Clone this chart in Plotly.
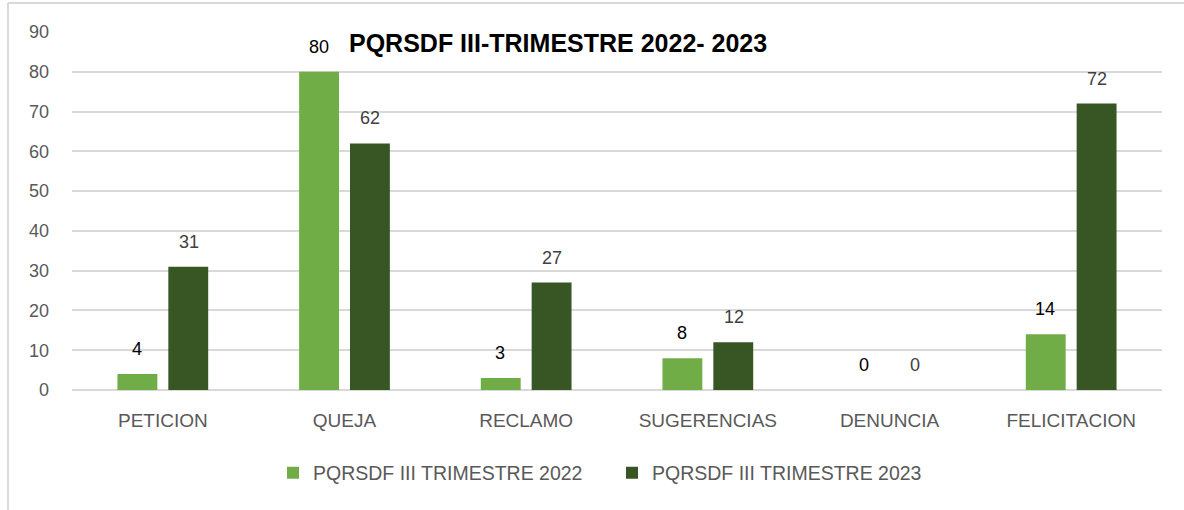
import plotly.graph_objects as go

categories = ["PETICION", "QUEJA", "RECLAMO", "SUGERENCIAS", "DENUNCIA", "FELICITACION"]
values_2022 = [4, 80, 3, 8, 0, 14]
values_2023 = [31, 62, 27, 12, 0, 72]
series_names = ["PQRSDF III TRIMESTRE 2022", "PQRSDF III TRIMESTRE 2023"]
title_text = "PQRSDF III-TRIMESTRE 2022- 2023"
y_ticks = [0, 10, 20, 30, 40, 50, 60, 70, 80, 90]

C1 = "#70AD47"
C2 = "#375623"
FONT = "Liberation Sans"

L, R, T, B = 72, 22, 32, 120
W, H = 1184, 510
pw = W - L - R
ph = H - T - B


def px(xp):
    return (xp - L) / pw


def py(yp):
    return (H - B - yp) / ph


fig = go.Figure()
fig.add_trace(go.Bar(x=categories, y=values_2022, name=series_names[0],
                     marker=dict(color=C1, line=dict(width=0))))
fig.add_trace(go.Bar(x=categories, y=values_2023, name=series_names[1],
                     marker=dict(color=C2, line=dict(width=0))))

ann = []
for cat, v in zip(categories, values_2022):
    ann.append(dict(x=cat, y=v, xref="x", yref="y", text=str(v), showarrow=False,
                    xshift=-25.8, yshift=25, font=dict(size=18, color="#000000", family=FONT)))
for cat, v in zip(categories, values_2023):
    ann.append(dict(x=cat, y=v, xref="x", yref="y", text=str(v), showarrow=False,
                    xshift=25.8, yshift=25, font=dict(size=18, color="#404040", family=FONT)))

ann.append(dict(x=px(557.5), y=py(43), xref="paper", yref="paper",
                text="<b>" + title_text + "</b>", showarrow=False,
                xanchor="center", yanchor="middle",
                font=dict(size=25, color="#000000", family=FONT)))

shapes = [
    dict(type="line", xref="paper", yref="paper", x0=px(8), x1=px(1190), y0=py(3), y1=py(3),
         line=dict(color="#D9D9D9", width=2)),
    dict(type="line", xref="paper", yref="paper", x0=px(8), x1=px(8), y0=py(3), y1=py(515),
         line=dict(color="#D9D9D9", width=2)),
]

fig.update_layout(
    width=W, height=H,
    margin=dict(l=L, r=R, t=T, b=B, autoexpand=False),
    paper_bgcolor="white", plot_bgcolor="white",
    barmode="group", bargap=0.44, bargroupgap=0.216,
    font=dict(family=FONT, size=18, color="#595959"),
    showlegend=True,
    legend=dict(orientation="h", x=px(273), xanchor="left",
                y=py(473), yanchor="middle",
                font=dict(size=19.5, color="#595959", family=FONT),
                itemwidth=30, entrywidth=294, traceorder="normal"),
    annotations=ann,
    shapes=shapes,
)
fig.update_xaxes(showgrid=False, showline=False, zeroline=False, ticks="",
                 ticklabelstandoff=17,
                 tickfont=dict(size=19, color="#595959", family=FONT))
fig.update_yaxes(range=[0, 90], tickvals=y_ticks, showgrid=True, gridcolor="#D9D9D9",
                 gridwidth=1.5, zeroline=True, zerolinecolor="#D9D9D9", zerolinewidth=1.5,
                 showline=False, ticks="", ticklabelstandoff=22,
                 tickfont=dict(size=18, color="#595959", family=FONT))

fig.write_html("out.html", config={"displayModeBar": False},
               post_script="document.body.style.margin='0';document.body.style.overflow='hidden';")
